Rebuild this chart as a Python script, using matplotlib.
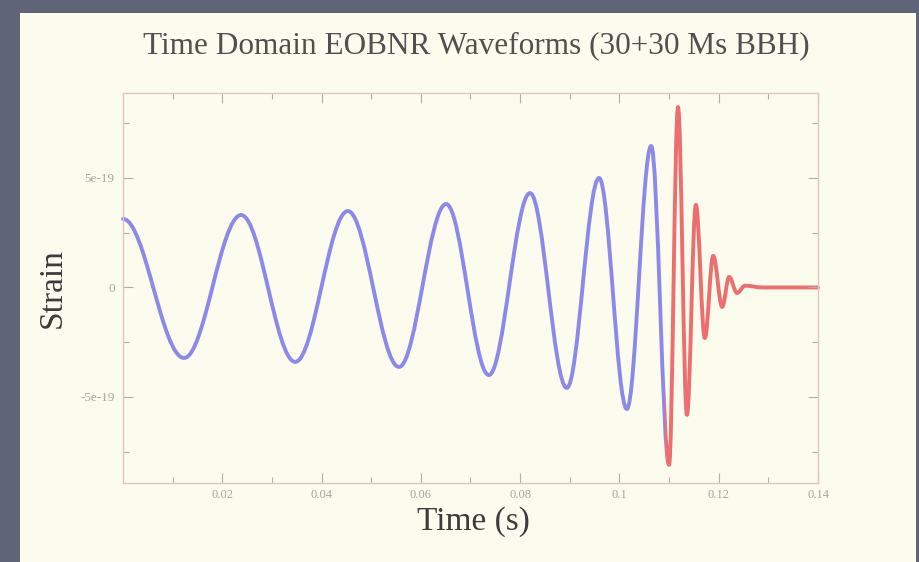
import numpy as np
import matplotlib
matplotlib.use('Agg')
import matplotlib.pyplot as plt
from matplotlib.path import Path
from matplotlib.patches import PathPatch, Rectangle

FILENAME = 'out.png'

TITLE = 'Time Domain EOBNR Waveforms (30+30 Ms BBH)'
X_LABEL = 'Time (s)'
Y_LABEL = 'Strain'

# turning points of the waveform
TIME_S = [0.0, 0.0123, 0.0238, 0.0347, 0.0453, 0.0556, 0.0651, 0.0737,
          0.0820, 0.0894, 0.0959, 0.1015, 0.1064, 0.1100, 0.1118, 0.1136,
          0.1154, 0.1172, 0.1189, 0.1207, 0.1221, 0.1237, 0.1253, 0.1289,
          0.1400]
STRAIN_E19 = [3.13, -3.22, 3.31, -3.40, 3.49, -3.63, 3.81, -4.00,
              4.31, -4.59, 5.00, -5.55, 6.46, -8.10, 8.24, -5.82,
              3.77, -2.31, 1.44, -0.89, 0.48, -0.25, 0.08, 0.0,
              0.0]
# inspiral (blue) -> merger / ringdown (red)
MERGER_TIME_S = 0.1092

X_TICKS = [0.02, 0.04, 0.06, 0.08, 0.10, 0.12, 0.14]
X_TICK_LABELS = ['0.02', '0.04', '0.06', '0.08', '0.1', '0.12', '0.14']
Y_TICKS = [-5e-19, 0.0, 5e-19]
Y_TICK_LABELS = ['-5e-19', '0', '5e-19']

BACKGROUND = '#5f6476'
PANEL = '#fbfbee'
FRAME = '#e3c7bd'
TICK = '#b9aca6'
BLUE = '#8d89e8'
RED = '#ec6e6e'
SERIF = 'Liberation Serif'


def smooth_path(t, y, k=0.364):
    # cubic pieces with flat tangents at every turning point
    verts = [(t[0], y[0])]
    codes = [Path.MOVETO]
    for t0, y0, t1, y1 in zip(t[:-1], y[:-1], t[1:], y[1:]):
        dt = t1 - t0
        verts += [(t0 + k * dt, y0), (t1 - k * dt, y1), (t1, y1)]
        codes += [Path.CURVE4] * 3
    return Path(verts, codes)


def main():
    fig = plt.figure(figsize=(9.2, 5.62), dpi=100, facecolor=BACKGROUND)
    fig.add_artist(Rectangle((20 / 920, 0), 896 / 920, 1 - 13 / 562,
                             transform=fig.transFigure, facecolor=PANEL,
                             edgecolor='none', zorder=-1))

    ax = fig.add_axes([123 / 920, 1 - 483 / 562, 695 / 920, 390 / 562])
    ax.set_facecolor('none')

    strain = np.array(STRAIN_E19) * 1e-19
    wave = smooth_path(TIME_S, strain)

    for color, x0, x1 in [(BLUE, -1.0, MERGER_TIME_S), (RED, MERGER_TIME_S, 1.0)]:
        patch = PathPatch(wave, facecolor='none', edgecolor=color, lw=2.8,
                          capstyle='round', joinstyle='round')
        ax.add_patch(patch)
        clip = Rectangle((x0, -1e-17), x1 - x0, 2e-17, transform=ax.transData)
        patch.set_clip_path(clip)

    ax.set_xlim(0, 0.14)
    ax.set_ylim(-8.93e-19, 8.88e-19)

    ax.set_xticks(X_TICKS, X_TICK_LABELS)
    ax.set_xticks(np.arange(0.01, 0.14, 0.02), minor=True)
    ax.set_yticks(Y_TICKS, Y_TICK_LABELS)
    ax.set_yticks([-7.5e-19, -2.5e-19, 2.5e-19, 7.5e-19], minor=True)

    for side in ax.spines.values():
        side.set_color(FRAME)
        side.set_linewidth(1.0)
    ax.tick_params(which='both', direction='in', top=True, right=True,
                   color=TICK, width=0.8)
    ax.tick_params(which='major', length=7, labelsize=9, labelcolor='#a9a6a4')
    ax.tick_params(which='minor', length=4)
    ax.tick_params(axis='x', which='major', pad=4)
    ax.tick_params(axis='y', which='major', pad=6, labelsize=9.5)
    for lab in ax.get_xticklabels() + ax.get_yticklabels():
        lab.set_family(SERIF)

    fig.text(476 / 920, 1 - 46 / 562, TITLE, ha='center', va='center',
             fontsize=22.5, family=SERIF, color='#505050')

    ax.set_xlabel(X_LABEL, fontsize=24, family=SERIF, color='#3c3c3c', va='baseline')
    ax.xaxis.set_label_coords((473 - 123) / 695, (483 - 530) / 390)
    ax.set_ylabel(Y_LABEL, fontsize=24, family=SERIF, color='#3c3c3c', va='baseline')
    ax.yaxis.set_label_coords((61 - 123) / 695, (483 - 288) / 390)

    fig.savefig(FILENAME, dpi=100, facecolor=BACKGROUND)


if __name__ == '__main__':
    main()
